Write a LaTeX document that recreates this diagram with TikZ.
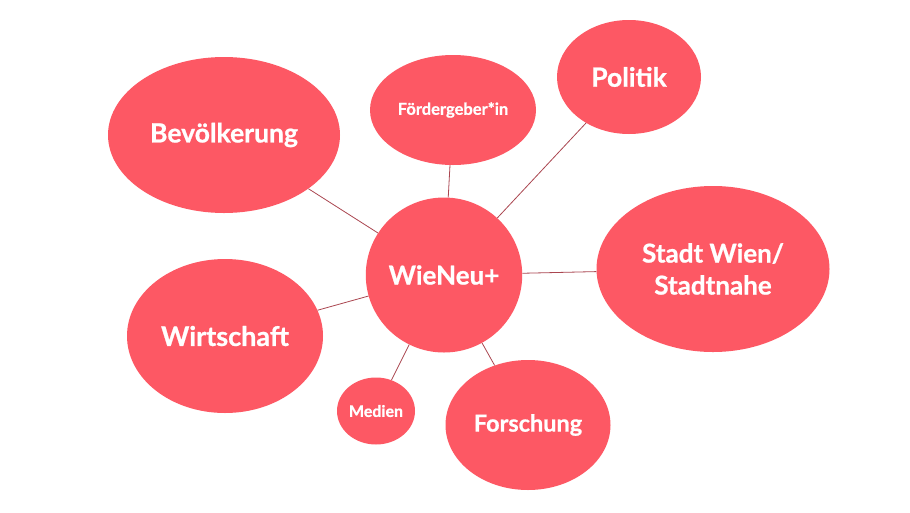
\documentclass[tikz,border=0pt]{standalone}
\usepackage{fontspec}
\setmainfont{Lato}[BoldFeatures={FakeBold=0.8}]
\usetikzlibrary{shapes.geometric}
\definecolor{bubble}{RGB}{253,88,100}
\definecolor{link}{RGB}{170,70,80}
\tikzset{
  bub/.style={ellipse, fill=bubble, inner sep=0pt, text=white, font=\bfseries, align=center},
  conn/.style={draw=link, line width=0.8pt}
}
\begin{document}
\begin{tikzpicture}[x=1pt,y=-1pt]
\useasboundingbox (0,0) rectangle (910,512);
\fill[white] (0,0) rectangle (910,512);
\node[bub, minimum width=232pt, minimum height=156pt, font=\bfseries\fontsize{26.5}{30}\selectfont] (bev) at (224,135) {Bevölkerung};
\node[bub, minimum width=166pt, minimum height=110pt, font=\bfseries\fontsize{16.5}{19}\selectfont] (foe) at (453,110) {Fördergeber*in};
\node[bub, minimum width=144pt, minimum height=114pt, font=\bfseries\fontsize{26.5}{30}\selectfont] (pol) at (629,77) {Politik};
\node[bub, minimum width=233pt, minimum height=166pt, font=\bfseries\fontsize{26}{32}\selectfont] (sta) at (713,269) {Stadt Wien/\\Stadtnahe};
\node[bub, minimum width=156pt, minimum height=155pt, font=\bfseries\fontsize{26}{30}\selectfont] (wie) at (444,275) {WieNeu+};
\node[bub, minimum width=196pt, minimum height=154pt, font=\bfseries\fontsize{27}{30}\selectfont] (wir) at (225,336) {Wirtschaft};
\node[bub, minimum width=78pt, minimum height=67pt, font=\bfseries\fontsize{16}{18}\selectfont] (med) at (376,411) {Medien};
\node[bub, minimum width=165pt, minimum height=130pt, font=\bfseries\fontsize{23.5}{26}\selectfont] (for) at (528,425) {Forschung};
\draw[conn] (wie) -- (bev);
\draw[conn] (wie) -- (foe);
\draw[conn] (wie) -- (pol);
\draw[conn] (wie) -- (sta);
\draw[conn] (wie) -- (wir);
\draw[conn] (wie) -- (med);
\draw[conn] (wie) -- (for);
\end{tikzpicture}
\end{document}
